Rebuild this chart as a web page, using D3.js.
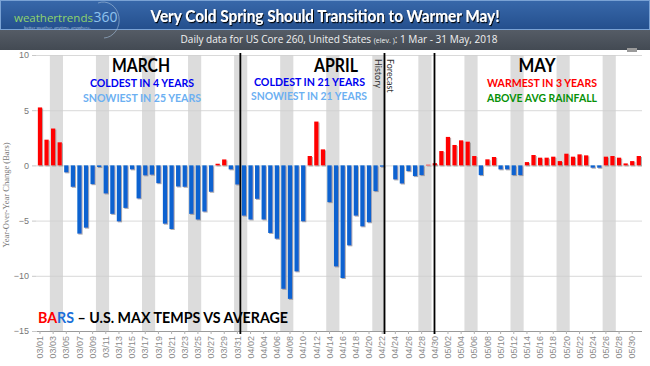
<!DOCTYPE html>
<html>
<head>
<meta charset="utf-8">
<script src="https://cdn.jsdelivr.net/npm/d3@7"></script>
<style>
  body { margin: 0; background: #fff; }
  svg { display: block; }
</style>
</head>
<body>
<svg id="chart" width="650" height="366"></svg>
<script>
// Year-over-year change of US max temps, daily, 1 Mar - 31 May 2018
const marchVals = [5.25, 2.33, 3.34, 2.09, -0.63, -1.94, -6.18, -5.64, -1.7, -0.15, -2.54, -4.39, -5.07, -3.85, -0.36, -2.99,
  -0.9, -0.84, -1.61, -5.28, -5.76, -1.91, -1.94, -4.39, -4.9, -4.18, -2.39, 0.15, 0.54, -0.36, -1.73];
const aprilVals = [-4.55, -4.9, -3.03, -4.9, -6.12, -6.64, -11.18, -12.09, -9.6, -5.06, 0.85, 3.97, 1.45, -3.33, -9.15,
  -10.2, -7.24, -4.55, -5.52, -5.15, -2.33, -0.12, 0, -1.27, -1.64, -0.52, -0.97, -0.88, 0.06, 0.2];
const mayVals = [1.3, 2.58, 1.85, 2.27, 2.15, 0.85, -0.88, 0.55, 0.76, -0.36, -0.36, -0.88, -0.88, 0.3, 0.94, 0.7,
  0.7, 0.79, 0.39, 1.06, 0.79, 1.0, 0.91, -0.21, -0.21, 0.79, 0.85, 0.7, 0.18, 0.39, 0.85];
const yTicks = [-15, -10, -5, 0, 5, 10];
// month / history-forecast dividers, in day-index units
const dividerAt = [30.45, 52.35, 59.95];

const values = marchVals.concat(aprilVals, mayVals);
const days = d3.timeDay.range(new Date(2018, 2, 1), new Date(2018, 5, 1));
const fmt = d3.timeFormat("%m/%d");
const data = days.map((d, i) => ({ date: d, key: fmt(d), v: values[i] }));

const svg = d3.select("#chart");
const defs = svg.append("defs");

// header gradients + shadows
const g1 = defs.append("linearGradient").attr("id", "hdr").attr("x1", 0).attr("y1", 0).attr("x2", 0).attr("y2", 1);
g1.append("stop").attr("offset", 0).attr("stop-color", "#3868aa");
g1.append("stop").attr("offset", 1).attr("stop-color", "#244f8d");
const g2 = defs.append("linearGradient").attr("id", "sub").attr("x1", 0).attr("y1", 0).attr("x2", 0).attr("y2", 1);
g2.append("stop").attr("offset", 0).attr("stop-color", "#555c66");
g2.append("stop").attr("offset", 1).attr("stop-color", "#434a53");
defs.append("filter").attr("id", "tshadow").append("feDropShadow")
  .attr("dx", 1).attr("dy", 1.2).attr("stdDeviation", 0.6).attr("flood-color", "#000").attr("flood-opacity", 0.9);
defs.append("filter").attr("id", "bshadow").attr("x", "-50%").attr("width", "200%").append("feDropShadow")
  .attr("dx", 1).attr("dy", 1).attr("stdDeviation", 0.4).attr("flood-color", "#777").attr("flood-opacity", 0.6);

svg.append("rect").attr("x", 0.5).attr("y", 0.5).attr("width", 649).attr("height", 29)
  .attr("fill", "url(#hdr)").attr("stroke", "#7aa2d4");
svg.append("rect").attr("x", 0).attr("y", 30).attr("width", 650).attr("height", 20).attr("fill", "url(#sub)");
svg.append("rect").attr("x", 627).attr("y", 48).attr("width", 10).attr("height", 4).attr("fill", "#9a9a9a");

// logo
svg.append("path").attr("d", "M98,3 A16,18 0 1,1 104,38").attr("fill", "none")
  .attr("stroke", "#9fb9d6").attr("stroke-width", 0.8).attr("opacity", 0.8);
const logoFont = "'Open Sans', sans-serif";
const wt = svg.append("text").attr("x", 14).attr("y", 22).attr("fill", "#8fd36c")
  .style("font-family", logoFont).style("font-size", "11.5px").text("weathertrends");
const wtEnd = 14 + wt.node().getComputedTextLength() + 0.5;
svg.append("text").attr("x", wtEnd).attr("y", 22).attr("fill", "#8fc3ee")
  .style("font-family", logoFont).style("font-size", "14px").text("360");
svg.append("text").attr("x", 24).attr("y", 28.5).attr("fill", "#b5c7dc")
  .style("font-family", logoFont).style("font-size", "4px")
  .text("better weather. anytime. anywhere.");

svg.append("text").attr("x", 325).attr("y", 22).attr("text-anchor", "middle")
  .attr("fill", "#fff").attr("filter", "url(#tshadow)")
  .style("font-family", "Lato, sans-serif").style("font-weight", "bold").style("font-size", "17px")
  .attr("textLength", 349).attr("lengthAdjust", "spacingAndGlyphs")
  .text("Very Cold Spring Should Transition to Warmer May!");

const sub = svg.append("text").attr("x", 339).attr("y", 43).attr("text-anchor", "middle")
  .attr("fill", "#f2f2f2").style("font-family", "'Open Sans', sans-serif").style("font-size", "10px")
  .attr("textLength", 317).attr("lengthAdjust", "spacingAndGlyphs");
sub.append("tspan").text("Daily data for US Core 260, United States ");
sub.append("tspan").style("font-size", "7px").text("(elev. )");
sub.append("tspan").text(": 1 Mar - 31 May, 2018");

// scales
const x = d3.scaleBand().domain(data.map(d => d.key)).range([36.7, 642.1])
  .paddingInner(0.35).paddingOuter(0.175);
const y = d3.scaleLinear().domain([-15, 10]).range([331, 55]);
const step = x.step();
const cx = k => x(k) + x.bandwidth() / 2;

// weekend bands
const weekends = data.filter(d => d.date.getDay() === 6);
svg.append("g").selectAll("rect").data(weekends).join("rect")
  .attr("x", d => cx(d.key) - step / 2)
  .attr("y", y(10))
  .attr("width", step * 2)
  .attr("height", y(-15) - y(10))
  .attr("fill", "#dcdcdc");

// gridlines + y axis
const yAxis = svg.append("g").attr("transform", "translate(36,0)")
  .call(d3.axisLeft(y).tickValues(yTicks).tickSize(4).tickPadding(3));
yAxis.select(".domain").remove();
yAxis.selectAll("line").attr("stroke", "#c8c8c8");
yAxis.selectAll("text").attr("fill", "#777").style("font-family", "'Liberation Sans', sans-serif").style("font-size", "9px");
svg.append("g").selectAll("line").data(yTicks.filter(t => t > -15)).join("line")
  .attr("x1", 36).attr("x2", 642).attr("y1", d => y(d) + 0.5).attr("y2", d => y(d) + 0.5)
  .attr("stroke", "#cfcfcf").attr("stroke-opacity", 0.8);

svg.append("text").attr("transform", "translate(9,195) rotate(-90)").attr("text-anchor", "middle")
  .attr("fill", "#777").style("font-family", "'Liberation Serif', serif").style("font-size", "8.5px")
  .text("Year-Over-Year Change (Bars)");

// bars
svg.append("g").attr("filter", "url(#bshadow)").selectAll("rect").data(data.filter(d => d.v !== 0)).join("rect")
  .attr("x", d => x(d.key))
  .attr("width", x.bandwidth())
  .attr("y", d => y(Math.max(0, d.v)))
  .attr("height", d => Math.abs(y(d.v) - y(0)))
  .attr("fill", d => d.v >= 0 ? "#ff0000" : "#0a62d0");

// x axis
const xAxis = svg.append("g").attr("transform", `translate(0,${y(-15)})`)
  .call(d3.axisBottom(x).tickValues(data.filter((d, i) => i % 2 === 0).map(d => d.key)).tickSize(3).tickSizeOuter(0));
xAxis.select(".domain").attr("stroke", "#9a9a9a").attr("d", "M36.5,0.5H642");
xAxis.selectAll("line").attr("stroke", "#b0b0b0");
xAxis.selectAll("text")
  .attr("transform", "rotate(-90)").attr("text-anchor", "end")
  .attr("x", -5).attr("y", 0).attr("dy", "0.35em")
  .attr("fill", "#8a8a8a").style("font-family", "'Liberation Sans', sans-serif").style("font-size", "9px");

// dividers
svg.append("g").selectAll("line").data(dividerAt).join("line")
  .attr("x1", d => x.range()[0] + step * (d + 0.5)).attr("x2", d => x.range()[0] + step * (d + 0.5))
  .attr("y1", 53).attr("y2", 334)
  .attr("stroke", "#000").attr("stroke-width", 1.8);

// annotations
const notes = [
  { t: "MARCH", x: 141, y: 72, c: "#000", s: 18, w: 58 },
  { t: "COLDEST  IN 4 YEARS", x: 142, y: 87, c: "#0000f0", s: 11, w: 104 },
  { t: "SNOWIEST IN 25 YEARS", x: 142, y: 102, c: "#6cb0f2", s: 11, w: 118 },
  { t: "APRIL", x: 336, y: 72, c: "#000", s: 18, w: 44 },
  { t: "COLDEST  IN 21 YEARS", x: 309.5, y: 86, c: "#0000f0", s: 11, w: 111 },
  { t: "SNOWIEST IN 21 YEARS", x: 309, y: 100, c: "#6cb0f2", s: 11, w: 116 },
  { t: "MAY", x: 537, y: 72, c: "#000", s: 18, w: 37 },
  { t: "WARMEST IN 3 YEARS", x: 542, y: 87, c: "#ff0000", s: 11, w: 110 },
  { t: "ABOVE AVG RAINFALL", x: 542, y: 102, c: "#079107", s: 11, w: 110 }
];
svg.append("g").selectAll("text").data(notes).join("text")
  .attr("x", d => d.x).attr("y", d => d.y).attr("text-anchor", "middle")
  .attr("fill", d => d.c).style("font-family", "Lato, sans-serif").style("font-weight", "bold")
  .style("font-size", d => d.s + "px")
  .attr("textLength", d => d.w).attr("lengthAdjust", "spacingAndGlyphs")
  .text(d => d.t);

[["History", 375], ["Forecast", 387]].forEach(([t, xx]) => {
  svg.append("text").attr("transform", `translate(${xx},59) rotate(90)`)
    .attr("fill", "#333").style("font-family", "Lato, sans-serif").style("font-size", "9px")
    .text(t);
});

const bars = svg.append("text").attr("x", 38).attr("y", 323)
  .style("font-family", "Lato, sans-serif").style("font-weight", "bold").style("font-size", "15px")
  .attr("textLength", 250).attr("lengthAdjust", "spacingAndGlyphs");
bars.append("tspan").attr("fill", "#ff0000").text("BA");
bars.append("tspan").attr("fill", "#1a6fd8").text("RS");
bars.append("tspan").attr("fill", "#000").text(" – U.S. MAX TEMPS VS AVERAGE");
</script>
</body>
</html>
